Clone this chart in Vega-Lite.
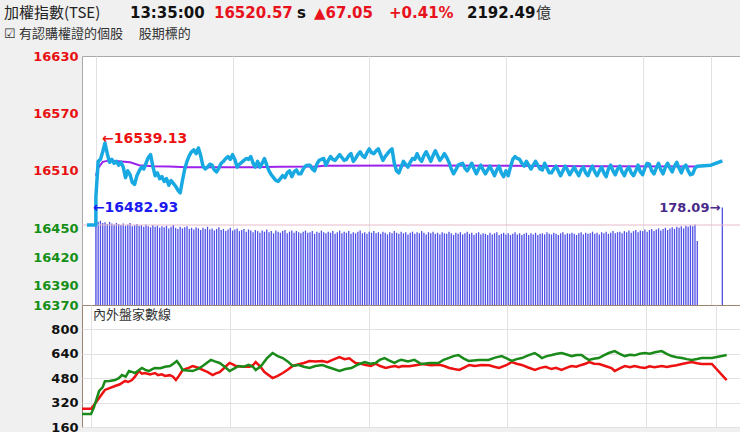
{
  "$schema": "https://vega.github.io/schema/vega-lite/v6.json",
  "padding": {"left": 3, "top": 6, "right": 0, "bottom": 0},
  "background": "#f0f0f0",
  "config": {
    "view": {"stroke": null},
    "font": "DejaVu Sans",
    "title": {"anchor": "start", "frame": "group", "baseline": "alphabetic", "offset": 3, "fontSize": 15, "fontWeight": "bold", "color": "#111111", "font": "DejaVu Sans"}
  },
  "datasets": {
    "price": [
      {"t":-3.9,"p":16453.52},{"t":0,"p":16453.52},{"t":0,"p":16482.93},
      {"t":1,"p":16520},{"t":2,"p":16522},{"t":3,"p":16530},{"t":4,"p":16539.13},{"t":5,"p":16528},{"t":6,"p":16519},{"t":7,"p":16522},{"t":8,"p":16518},{"t":9,"p":16520},{"t":10,"p":16516},
      {"t":11,"p":16519},{"t":12,"p":16514},{"t":13,"p":16503},{"t":14,"p":16510},{"t":15,"p":16506},{"t":16,"p":16498},{"t":17,"p":16496},{"t":18,"p":16505},{"t":19,"p":16510},{"t":20,"p":16514},
      {"t":21,"p":16512},{"t":22,"p":16518},{"t":23,"p":16524},{"t":24,"p":16527},{"t":25,"p":16515},{"t":26,"p":16505},{"t":27,"p":16508},{"t":28,"p":16502},{"t":29,"p":16504},{"t":30,"p":16499},
      {"t":31,"p":16502},{"t":32,"p":16495},{"t":33,"p":16500},{"t":34,"p":16497},{"t":35,"p":16494},{"t":36,"p":16490},{"t":37,"p":16487},{"t":38,"p":16500},{"t":39,"p":16512},{"t":40,"p":16520},
      {"t":41,"p":16526},{"t":42,"p":16530},{"t":43,"p":16532},{"t":44,"p":16528},{"t":45,"p":16534},{"t":46,"p":16526},{"t":47,"p":16515},{"t":48,"p":16512},{"t":49,"p":16514},{"t":50,"p":16517},
      {"t":51,"p":16516},{"t":52,"p":16511},{"t":53,"p":16509},{"t":54,"p":16513},{"t":55,"p":16518},{"t":56,"p":16520},{"t":57,"p":16523},{"t":58,"p":16525},{"t":59,"p":16522},{"t":60,"p":16527},
      {"t":61,"p":16522},{"t":62,"p":16514},{"t":63,"p":16517},{"t":64,"p":16519},{"t":65,"p":16521},{"t":66,"p":16523},{"t":67,"p":16522},{"t":68,"p":16525},{"t":69,"p":16518},{"t":70,"p":16514},
      {"t":71,"p":16520},{"t":72,"p":16514},{"t":73,"p":16518},{"t":74,"p":16523},{"t":75,"p":16516},{"t":76,"p":16510},{"t":77,"p":16506},{"t":78,"p":16503},{"t":79,"p":16500},{"t":80,"p":16499},
      {"t":81,"p":16502},{"t":82,"p":16505},{"t":83,"p":16503},{"t":84,"p":16508},{"t":85,"p":16510},{"t":86,"p":16504},{"t":87,"p":16509},{"t":88,"p":16511},{"t":89,"p":16507},{"t":90,"p":16507},
      {"t":91,"p":16512},{"t":92,"p":16515},{"t":93,"p":16516},{"t":94,"p":16516},{"t":95,"p":16512},{"t":96,"p":16510},{"t":97,"p":16517},{"t":98,"p":16521},{"t":99,"p":16522},{"t":100,"p":16523},
      {"t":101,"p":16516},{"t":102,"p":16521},{"t":103,"p":16525},{"t":104,"p":16522},{"t":105,"p":16521},{"t":106,"p":16524},{"t":107,"p":16527},{"t":108,"p":16524},{"t":109,"p":16521},{"t":110,"p":16522},
      {"t":111,"p":16526},{"t":112,"p":16528},{"t":113,"p":16520},{"t":114,"p":16523},{"t":115,"p":16527},{"t":116,"p":16530},{"t":117,"p":16526},{"t":118,"p":16524},{"t":119,"p":16529},{"t":120,"p":16533},
      {"t":121,"p":16529},{"t":122,"p":16528},{"t":123,"p":16531},{"t":124,"p":16533},{"t":125,"p":16527},{"t":126,"p":16521},{"t":127,"p":16525},{"t":128,"p":16528},{"t":129,"p":16531},{"t":130,"p":16533},
      {"t":131,"p":16518},{"t":132,"p":16510},{"t":133,"p":16508},{"t":134,"p":16514},{"t":135,"p":16520},{"t":136,"p":16517},{"t":137,"p":16514},{"t":138,"p":16519},{"t":139,"p":16523},{"t":140,"p":16522},
      {"t":141,"p":16528},{"t":142,"p":16523},{"t":143,"p":16520},{"t":144,"p":16526},{"t":145,"p":16530},{"t":146,"p":16525},{"t":147,"p":16520},{"t":148,"p":16526},{"t":149,"p":16531},{"t":150,"p":16526},
      {"t":151,"p":16521},{"t":152,"p":16524},{"t":153,"p":16528},{"t":154,"p":16524},{"t":155,"p":16519},{"t":156,"p":16512},{"t":157,"p":16507},{"t":158,"p":16511},{"t":159,"p":16516},{"t":160,"p":16517},
      {"t":161,"p":16518},{"t":162,"p":16513},{"t":163,"p":16510},{"t":164,"p":16514},{"t":165,"p":16518},{"t":166,"p":16512},{"t":167,"p":16507},{"t":168,"p":16512},{"t":169,"p":16516},{"t":170,"p":16511},
      {"t":171,"p":16507},{"t":172,"p":16511},{"t":173,"p":16515},{"t":174,"p":16510},{"t":175,"p":16505},{"t":176,"p":16511},{"t":177,"p":16515},{"t":178,"p":16508},{"t":179,"p":16504},{"t":180,"p":16510},
      {"t":181,"p":16505},{"t":182,"p":16514},{"t":183,"p":16522},{"t":184,"p":16525},{"t":185,"p":16523},{"t":186,"p":16522},{"t":187,"p":16518},{"t":188,"p":16515},{"t":189,"p":16520},{"t":190,"p":16516},
      {"t":191,"p":16512},{"t":192,"p":16516},{"t":193,"p":16520},{"t":194,"p":16516},{"t":195,"p":16512},{"t":196,"p":16511},{"t":197,"p":16518},{"t":198,"p":16513},{"t":199,"p":16508},{"t":200,"p":16508},
      {"t":201,"p":16512},{"t":202,"p":16515},{"t":203,"p":16510},{"t":204,"p":16505},{"t":205,"p":16510},{"t":206,"p":16515},{"t":207,"p":16511},{"t":208,"p":16506},{"t":209,"p":16510},{"t":210,"p":16514},
      {"t":211,"p":16509},{"t":212,"p":16505},{"t":213,"p":16511},{"t":214,"p":16514},{"t":215,"p":16508},{"t":216,"p":16505},{"t":217,"p":16511},{"t":218,"p":16515},{"t":219,"p":16509},{"t":220,"p":16505},
      {"t":221,"p":16510},{"t":222,"p":16514},{"t":223,"p":16508},{"t":224,"p":16504},{"t":225,"p":16512},{"t":226,"p":16516},{"t":227,"p":16510},{"t":228,"p":16506},{"t":229,"p":16512},{"t":230,"p":16515},
      {"t":231,"p":16509},{"t":232,"p":16505},{"t":233,"p":16511},{"t":234,"p":16514},{"t":235,"p":16508},{"t":236,"p":16505},{"t":237,"p":16510},{"t":238,"p":16516},{"t":239,"p":16509},{"t":240,"p":16506},
      {"t":241,"p":16513},{"t":242,"p":16518},{"t":243,"p":16517},{"t":244,"p":16510},{"t":245,"p":16507},{"t":246,"p":16513},{"t":247,"p":16518},{"t":248,"p":16511},{"t":249,"p":16507},{"t":250,"p":16514},
      {"t":251,"p":16518},{"t":252,"p":16513},{"t":253,"p":16509},{"t":254,"p":16515},{"t":255,"p":16519},{"t":256,"p":16513},{"t":257,"p":16508},{"t":258,"p":16514},{"t":259,"p":16516},{"t":260,"p":16510},
      {"t":261,"p":16506},{"t":262,"p":16507},{"t":263,"p":16513},{"t":264,"p":16515},{"t":270,"p":16516},{"t":275,"p":16520.57}
    ],
    "avg": [
      {"t":0,"p":16505},{"t":1,"p":16513},{"t":3,"p":16519.5},{"t":6,"p":16521},{"t":10,"p":16520},{"t":15,"p":16519},{"t":19,"p":16516},{"t":25,"p":16514.8},{"t":32,"p":16514.5},{"t":40,"p":16513.8},
      {"t":68,"p":16513.8},{"t":80,"p":16514.4},{"t":97,"p":16514.6},{"t":100,"p":16515.4},{"t":140,"p":16515.6},{"t":180,"p":16515.4},{"t":220,"p":16514.9},{"t":264,"p":16514.6}
    ],
    "extremes": [
      {"t":4,"p":16539.13,"kind":"high"},
      {"t":0,"p":16482.93,"kind":"low"}
    ],
    "vol": [
      {"t":0,"v":156},{"t":1,"v":152},{"t":2,"v":154},{"t":3,"v":150},{"t":4,"v":151},{"t":5,"v":148},{"t":6,"v":152},{"t":7,"v":149},{"t":8,"v":147},{"t":9,"v":150},
      {"t":10,"v":148},{"t":11,"v":146},{"t":12,"v":149},{"t":13,"v":145},{"t":14,"v":147},{"t":15,"v":150},{"t":16,"v":144},{"t":17,"v":146},{"t":18,"v":148},{"t":19,"v":145},
      {"t":20,"v":146},{"t":21,"v":143},{"t":22,"v":147},{"t":23,"v":144},{"t":24,"v":142},{"t":25,"v":146},{"t":26,"v":143},{"t":27,"v":145},{"t":28,"v":141},{"t":29,"v":144},
      {"t":30,"v":142},{"t":31,"v":145},{"t":32,"v":140},{"t":33,"v":143},{"t":34,"v":146},{"t":35,"v":141},{"t":36,"v":139},{"t":37,"v":143},{"t":38,"v":140},{"t":39,"v":142},
      {"t":40,"v":144},{"t":41,"v":139},{"t":42,"v":141},{"t":43,"v":138},{"t":44,"v":142},{"t":45,"v":140},{"t":46,"v":137},{"t":47,"v":141},{"t":48,"v":139},{"t":49,"v":143},
      {"t":50,"v":138},{"t":51,"v":140},{"t":52,"v":136},{"t":53,"v":139},{"t":54,"v":142},{"t":55,"v":137},{"t":56,"v":139},{"t":57,"v":135},{"t":58,"v":138},{"t":59,"v":141},
      {"t":60,"v":136},{"t":61,"v":138},{"t":62,"v":140},{"t":63,"v":135},{"t":64,"v":137},{"t":65,"v":139},{"t":66,"v":134},{"t":67,"v":138},{"t":68,"v":136},{"t":69,"v":133},
      {"t":70,"v":137},{"t":71,"v":135},{"t":72,"v":132},{"t":73,"v":136},{"t":74,"v":134},{"t":75,"v":138},{"t":76,"v":133},{"t":77,"v":135},{"t":78,"v":131},{"t":79,"v":136},
      {"t":80,"v":134},{"t":81,"v":132},{"t":82,"v":135},{"t":83,"v":137},{"t":84,"v":131},{"t":85,"v":134},{"t":86,"v":136},{"t":87,"v":132},{"t":88,"v":135},{"t":89,"v":133},
      {"t":90,"v":131},{"t":91,"v":134},{"t":92,"v":136},{"t":93,"v":132},{"t":94,"v":133},{"t":95,"v":135},{"t":96,"v":130},{"t":97,"v":134},{"t":98,"v":132},{"t":99,"v":136},
      {"t":100,"v":133},{"t":101,"v":131},{"t":102,"v":134},{"t":103,"v":132},{"t":104,"v":135},{"t":105,"v":130},{"t":106,"v":133},{"t":107,"v":136},{"t":108,"v":131},{"t":109,"v":134},
      {"t":110,"v":132},{"t":111,"v":135},{"t":112,"v":130},{"t":113,"v":133},{"t":114,"v":131},{"t":115,"v":134},{"t":116,"v":136},{"t":117,"v":131},{"t":118,"v":133},{"t":119,"v":130},
      {"t":120,"v":134},{"t":121,"v":132},{"t":122,"v":135},{"t":123,"v":131},{"t":124,"v":133},{"t":125,"v":130},{"t":126,"v":134},{"t":127,"v":132},{"t":128,"v":129},{"t":129,"v":133},
      {"t":130,"v":131},{"t":131,"v":135},{"t":132,"v":132},{"t":133,"v":130},{"t":134,"v":134},{"t":135,"v":131},{"t":136,"v":133},{"t":137,"v":129},{"t":138,"v":132},{"t":139,"v":134},
      {"t":140,"v":130},{"t":141,"v":133},{"t":142,"v":131},{"t":143,"v":135},{"t":144,"v":132},{"t":145,"v":129},{"t":146,"v":133},{"t":147,"v":131},{"t":148,"v":134},{"t":149,"v":130},
      {"t":150,"v":132},{"t":151,"v":129},{"t":152,"v":133},{"t":153,"v":131},{"t":154,"v":130},{"t":155,"v":134},{"t":156,"v":131},{"t":157,"v":128},{"t":158,"v":132},{"t":159,"v":130},
      {"t":160,"v":133},{"t":161,"v":129},{"t":162,"v":131},{"t":163,"v":134},{"t":164,"v":130},{"t":165,"v":132},{"t":166,"v":128},{"t":167,"v":131},{"t":168,"v":133},{"t":169,"v":129},
      {"t":170,"v":131},{"t":171,"v":130},{"t":172,"v":128},{"t":173,"v":132},{"t":174,"v":129},{"t":175,"v":131},{"t":176,"v":133},{"t":177,"v":128},{"t":178,"v":130},{"t":179,"v":132},
      {"t":180,"v":129},{"t":181,"v":131},{"t":182,"v":128},{"t":183,"v":130},{"t":184,"v":133},{"t":185,"v":129},{"t":186,"v":131},{"t":187,"v":128},{"t":188,"v":130},{"t":189,"v":132},
      {"t":190,"v":128},{"t":191,"v":131},{"t":192,"v":129},{"t":193,"v":132},{"t":194,"v":128},{"t":195,"v":130},{"t":196,"v":131},{"t":197,"v":129},{"t":198,"v":133},{"t":199,"v":130},
      {"t":200,"v":129},{"t":201,"v":132},{"t":202,"v":130},{"t":203,"v":128},{"t":204,"v":131},{"t":205,"v":133},{"t":206,"v":129},{"t":207,"v":131},{"t":208,"v":130},{"t":209,"v":132},
      {"t":210,"v":130},{"t":211,"v":128},{"t":212,"v":131},{"t":213,"v":133},{"t":214,"v":129},{"t":215,"v":132},{"t":216,"v":130},{"t":217,"v":131},{"t":218,"v":134},{"t":219,"v":130},
      {"t":220,"v":132},{"t":221,"v":129},{"t":222,"v":133},{"t":223,"v":131},{"t":224,"v":134},{"t":225,"v":130},{"t":226,"v":132},{"t":227,"v":135},{"t":228,"v":131},{"t":229,"v":133},
      {"t":230,"v":134},{"t":231,"v":131},{"t":232,"v":135},{"t":233,"v":133},{"t":234,"v":136},{"t":235,"v":132},{"t":236,"v":135},{"t":237,"v":137},{"t":238,"v":133},{"t":239,"v":136},
      {"t":240,"v":135},{"t":241,"v":138},{"t":242,"v":134},{"t":243,"v":137},{"t":244,"v":139},{"t":245,"v":135},{"t":246,"v":138},{"t":247,"v":140},{"t":248,"v":136},{"t":249,"v":139},
      {"t":250,"v":141},{"t":251,"v":137},{"t":252,"v":140},{"t":253,"v":142},{"t":254,"v":139},{"t":255,"v":143},{"t":256,"v":141},{"t":257,"v":144},{"t":258,"v":140},{"t":259,"v":145},
      {"t":260,"v":143},{"t":261,"v":146},{"t":262,"v":144},{"t":263,"v":147},{"t":264,"v":117},{"t":275,"v":178.09}
    ],
    "breadth": [
      {"t":-3.9,"s":"外盤","n":280},{"t":0,"s":"外盤","n":280},{"t":1.3,"s":"外盤","n":304},{"t":3.5,"s":"外盤","n":350},{"t":6,"s":"外盤","n":403},{"t":8,"s":"外盤","n":415},{"t":10.4,"s":"外盤","n":429},{"t":12.5,"s":"外盤","n":440},{"t":14.7,"s":"外盤","n":462},{"t":16,"s":"外盤","n":455},
      {"t":17.7,"s":"外盤","n":468},{"t":19,"s":"外盤","n":490},{"t":20.7,"s":"外盤","n":527},{"t":22,"s":"外盤","n":510},{"t":23.3,"s":"外盤","n":514},{"t":25.5,"s":"外盤","n":505},{"t":27.6,"s":"外盤","n":514},{"t":29,"s":"外盤","n":500},{"t":30.6,"s":"外盤","n":505},{"t":32,"s":"外盤","n":495},
      {"t":34,"s":"外盤","n":500},{"t":35.5,"s":"外盤","n":490},{"t":36.7,"s":"外盤","n":468},{"t":38,"s":"外盤","n":495},{"t":39.6,"s":"外盤","n":534},{"t":41.8,"s":"外盤","n":545},{"t":43.9,"s":"外盤","n":560},{"t":46,"s":"外盤","n":550},{"t":48.3,"s":"外盤","n":534},{"t":50.5,"s":"外盤","n":520},
      {"t":52.6,"s":"外盤","n":501},{"t":54,"s":"外盤","n":512},{"t":55.6,"s":"外盤","n":520},{"t":57.8,"s":"外盤","n":550},{"t":59.9,"s":"外盤","n":580},{"t":61.3,"s":"外盤","n":570},{"t":62.6,"s":"外盤","n":560},{"t":65.5,"s":"外盤","n":555},{"t":68.6,"s":"外盤","n":555},{"t":70,"s":"外盤","n":565},
      {"t":71.2,"s":"外盤","n":586},{"t":73,"s":"外盤","n":560},{"t":75,"s":"外盤","n":520},{"t":78.5,"s":"外盤","n":481},{"t":80.7,"s":"外盤","n":495},{"t":82.9,"s":"外盤","n":514},{"t":85,"s":"外盤","n":535},{"t":87.2,"s":"外盤","n":560},{"t":89.5,"s":"外盤","n":570},{"t":92,"s":"外盤","n":580},
      {"t":94.5,"s":"外盤","n":593},{"t":97,"s":"外盤","n":590},{"t":100,"s":"外盤","n":593},{"t":102.2,"s":"外盤","n":585},{"t":104.4,"s":"外盤","n":600},{"t":106,"s":"外盤","n":610},{"t":107.4,"s":"外盤","n":619},{"t":109.6,"s":"外盤","n":605},{"t":111.7,"s":"外盤","n":610},{"t":113,"s":"外盤","n":595},
      {"t":114.4,"s":"外盤","n":580},{"t":116.6,"s":"外盤","n":575},{"t":118.8,"s":"外盤","n":567},{"t":121,"s":"外盤","n":560},{"t":123,"s":"外盤","n":575},{"t":125,"s":"外盤","n":560},{"t":127.4,"s":"外盤","n":547},{"t":129.5,"s":"外盤","n":555},{"t":131.6,"s":"外盤","n":560},{"t":133,"s":"外盤","n":552},
      {"t":134.6,"s":"外盤","n":560},{"t":137.5,"s":"外盤","n":558},{"t":140.3,"s":"外盤","n":565},{"t":143.3,"s":"外盤","n":573},{"t":147,"s":"外盤","n":565},{"t":150.6,"s":"外盤","n":568},{"t":152.7,"s":"外盤","n":560},{"t":154.9,"s":"外盤","n":547},{"t":157,"s":"外盤","n":540},{"t":159.2,"s":"外盤","n":534},
      {"t":161.3,"s":"外盤","n":550},{"t":163.5,"s":"外盤","n":567},{"t":166,"s":"外盤","n":560},{"t":168.8,"s":"外盤","n":567},{"t":172.1,"s":"外盤","n":565},{"t":174.3,"s":"外盤","n":555},{"t":176.4,"s":"外盤","n":547},{"t":179.5,"s":"外盤","n":565},{"t":181.9,"s":"外盤","n":586},{"t":184,"s":"外盤","n":575},
      {"t":186.2,"s":"外盤","n":567},{"t":189,"s":"外盤","n":550},{"t":191.9,"s":"外盤","n":534},{"t":194.3,"s":"外盤","n":548},{"t":196.6,"s":"外盤","n":555},{"t":199,"s":"外盤","n":540},{"t":201,"s":"外盤","n":548},{"t":203.4,"s":"外盤","n":534},{"t":205.5,"s":"外盤","n":548},{"t":207.7,"s":"外盤","n":560},
      {"t":209.8,"s":"外盤","n":555},{"t":212,"s":"外盤","n":567},{"t":213.7,"s":"外盤","n":575},{"t":215.4,"s":"外盤","n":586},{"t":217.5,"s":"外盤","n":575},{"t":219.7,"s":"外盤","n":573},{"t":222.3,"s":"外盤","n":560},{"t":225,"s":"外盤","n":547},{"t":226.4,"s":"外盤","n":527},{"t":228.6,"s":"外盤","n":545},
      {"t":230.8,"s":"外盤","n":560},{"t":233,"s":"外盤","n":552},{"t":235,"s":"外盤","n":560},{"t":237.2,"s":"外盤","n":552},{"t":239.4,"s":"外盤","n":547},{"t":241.5,"s":"外盤","n":558},{"t":243.6,"s":"外盤","n":552},{"t":246.7,"s":"外盤","n":560},{"t":249,"s":"外盤","n":553},{"t":251,"s":"外盤","n":560},
      {"t":253.2,"s":"外盤","n":565},{"t":255.4,"s":"外盤","n":573},{"t":257.5,"s":"外盤","n":580},{"t":259.7,"s":"外盤","n":586},{"t":262,"s":"外盤","n":578},{"t":264,"s":"外盤","n":573},{"t":268.4,"s":"外盤","n":573},{"t":274.8,"s":"外盤","n":468},
      {"t":-3.9,"s":"內盤","n":245},{"t":0,"s":"內盤","n":245},{"t":1.3,"s":"內盤","n":290},{"t":3.5,"s":"內盤","n":396},{"t":5,"s":"內盤","n":420},{"t":6,"s":"內盤","n":460},{"t":8,"s":"內盤","n":462},{"t":10.4,"s":"內盤","n":468},{"t":12,"s":"內盤","n":480},{"t":13.4,"s":"內盤","n":501},
      {"t":15,"s":"內盤","n":490},{"t":16.4,"s":"內盤","n":527},{"t":18,"s":"內盤","n":520},{"t":19,"s":"內盤","n":514},{"t":20.5,"s":"內盤","n":530},{"t":22,"s":"內盤","n":547},{"t":23.5,"s":"內盤","n":535},{"t":25,"s":"內盤","n":527},{"t":26.5,"s":"內盤","n":540},{"t":27.6,"s":"內盤","n":547},
      {"t":30,"s":"內盤","n":545},{"t":32,"s":"內盤","n":555},{"t":34.1,"s":"內盤","n":560},{"t":35.6,"s":"內盤","n":575},{"t":37.1,"s":"內盤","n":593},{"t":38.4,"s":"內盤","n":565},{"t":39.6,"s":"內盤","n":534},{"t":41.8,"s":"內盤","n":530},{"t":43.9,"s":"內盤","n":527},{"t":46,"s":"內盤","n":540},
      {"t":48.3,"s":"內盤","n":560},{"t":50,"s":"內盤","n":580},{"t":51.8,"s":"內盤","n":600},{"t":53.5,"s":"內盤","n":590},{"t":55.6,"s":"內盤","n":580},{"t":57.8,"s":"內盤","n":555},{"t":59.9,"s":"內盤","n":527},{"t":62,"s":"內盤","n":545},{"t":63.9,"s":"內盤","n":560},{"t":66,"s":"內盤","n":555},
      {"t":68.2,"s":"內盤","n":567},{"t":70,"s":"內盤","n":555},{"t":71.2,"s":"內盤","n":534},{"t":73.5,"s":"內盤","n":560},{"t":76,"s":"內盤","n":610},{"t":78.5,"s":"內盤","n":645},{"t":80.7,"s":"內盤","n":625},{"t":82.9,"s":"內盤","n":612},{"t":85,"s":"內盤","n":590},{"t":87.2,"s":"內盤","n":560},
      {"t":89.5,"s":"內盤","n":567},{"t":92,"s":"內盤","n":555},{"t":94.5,"s":"內盤","n":547},{"t":97,"s":"內盤","n":560},{"t":100,"s":"內盤","n":567},{"t":102,"s":"內盤","n":555},{"t":104,"s":"內盤","n":545},{"t":107.4,"s":"內盤","n":527},{"t":110,"s":"內盤","n":540},{"t":112.6,"s":"內盤","n":547},
      {"t":115.5,"s":"內盤","n":570},{"t":118.4,"s":"內盤","n":586},{"t":120.7,"s":"內盤","n":575},{"t":123,"s":"內盤","n":580},{"t":124.8,"s":"內盤","n":600},{"t":126.9,"s":"內盤","n":612},{"t":129,"s":"內盤","n":595},{"t":131.2,"s":"內盤","n":580},{"t":133,"s":"內盤","n":595},{"t":134.2,"s":"內盤","n":600},
      {"t":137,"s":"內盤","n":590},{"t":139.8,"s":"內盤","n":600},{"t":142.8,"s":"內盤","n":573},{"t":146.5,"s":"內盤","n":580},{"t":150.2,"s":"內盤","n":580},{"t":152.4,"s":"內盤","n":600},{"t":154.5,"s":"內盤","n":612},{"t":156.7,"s":"內盤","n":625},{"t":158.8,"s":"內盤","n":632},{"t":161,"s":"內盤","n":610},
      {"t":163.2,"s":"內盤","n":593},{"t":167.5,"s":"內盤","n":600},{"t":171.8,"s":"內盤","n":600},{"t":174.7,"s":"內盤","n":615},{"t":177.5,"s":"內盤","n":625},{"t":179.7,"s":"內盤","n":610},{"t":181.9,"s":"內盤","n":593},{"t":184,"s":"內盤","n":605},{"t":186.2,"s":"內盤","n":612},{"t":189,"s":"內盤","n":630},
      {"t":191.8,"s":"內盤","n":645},{"t":193.4,"s":"內盤","n":630},{"t":194.9,"s":"內盤","n":612},{"t":197,"s":"內盤","n":625},{"t":199.2,"s":"內盤","n":632},{"t":201.4,"s":"內盤","n":640},{"t":203.5,"s":"內盤","n":645},{"t":205.6,"s":"內盤","n":635},{"t":207.8,"s":"內盤","n":625},{"t":210,"s":"內盤","n":632},
      {"t":212.1,"s":"內盤","n":632},{"t":213.6,"s":"內盤","n":615},{"t":215.2,"s":"內盤","n":600},{"t":217.3,"s":"內盤","n":608},{"t":219.5,"s":"內盤","n":612},{"t":221.7,"s":"內盤","n":630},{"t":223.8,"s":"內盤","n":645},{"t":226.4,"s":"內盤","n":658},{"t":228.6,"s":"內盤","n":640},{"t":230.8,"s":"內盤","n":625},
      {"t":232.9,"s":"內盤","n":633},{"t":235,"s":"內盤","n":630},{"t":237.2,"s":"內盤","n":640},{"t":239.4,"s":"內盤","n":645},{"t":241.6,"s":"內盤","n":640},{"t":243.8,"s":"內盤","n":650},{"t":246.7,"s":"內盤","n":658},{"t":248.9,"s":"內盤","n":640},{"t":251,"s":"內盤","n":625},{"t":253.2,"s":"內盤","n":618},
      {"t":255.4,"s":"內盤","n":612},{"t":257.6,"s":"內盤","n":605},{"t":259.7,"s":"內盤","n":600},{"t":262,"s":"內盤","n":606},{"t":264,"s":"內盤","n":612},{"t":268.4,"s":"內盤","n":612},{"t":274.8,"s":"內盤","n":632}
    ]
  },
  "concat": [
    {
      "hconcat": [
        {"width": 48, "height": 1, "data": {"values": []}, "mark": "point", "title": {"text": "加權指數(TSE)", "font": "Noto Sans CJK TC", "fontWeight": "normal", "color": "#222222", "dx": -78}},
        {"width": 84, "height": 1, "data": {"values": []}, "mark": "point", "title": {"text": "13:35:00", "color": "#111111"}},
        {"width": 83, "height": 1, "data": {"values": []}, "mark": "point", "title": {"text": "16520.57", "color": "#e8121c"}},
        {"width": 17, "height": 1, "data": {"values": []}, "mark": "point", "title": {"text": "s", "color": "#111111"}},
        {"width": 75, "height": 1, "data": {"values": []}, "mark": "point", "title": {"text": "▲67.05", "color": "#e8121c"}},
        {"width": 78, "height": 1, "data": {"values": []}, "mark": "point", "title": {"text": "+0.41%", "color": "#e8121c"}},
        {"width": 67, "height": 1, "data": {"values": []}, "mark": "point", "title": {"text": "2192.49", "color": "#111111"}},
        {"width": 20, "height": 1, "data": {"values": []}, "mark": "point", "title": {"text": "億", "font": "Noto Sans CJK TC", "fontWeight": "normal", "color": "#333333"}}
      ],
      "spacing": 0
    },
    {
      "vconcat": [
        {
          "width": 659,
          "height": 249,
          "view": {"fill": "white", "stroke": "#aaaaaa"},
          "title": {"text": " ☑ 有認購權證的個股　 股期標的", "font": "Noto Sans CJK TC", "fontSize": 13, "fontWeight": "normal", "color": "#333333", "dx": -78, "offset": 9},
          "layer": [
            {
              "data": {"name": "vol"},
              "layer": [
                {
                  "mark": {"type": "bar", "width": 1.3, "color": "#5050e6"},
                  "encoding": {
                    "x": {"field": "t", "type": "quantitative", "scale": {"domain": [-3.9, 281], "nice": false, "zero": false}, "axis": {"values": [0, 60, 120, 180, 240, 270], "labels": false, "ticks": false, "domain": false, "title": null, "grid": true, "gridColor": "#e2e2e2"}},
                    "y": {"field": "v", "type": "quantitative", "scale": {"domain": [0, 455], "nice": false}, "axis": null}
                  }
                },
                {
                  "transform": [{"filter": "datum.t > 270"}, {"calculate": "format(datum.v, '.2f') + '→'", "as": "label"}],
                  "mark": {"type": "text", "align": "right", "baseline": "middle", "dx": -2, "font": "DejaVu Sans", "fontWeight": "bold", "fontSize": 13, "color": "#4a2a88"},
                  "encoding": {
                    "x": {"field": "t", "type": "quantitative"},
                    "y": {"field": "v", "type": "quantitative"},
                    "text": {"field": "label"}
                  }
                }
              ]
            },
            {
              "layer": [
                {
                  "data": {"values": [{}]},
                  "mark": {"type": "rule", "color": "#e6bccb", "strokeWidth": 1},
                  "encoding": {"y": {"datum": 16453.52, "type": "quantitative"}}
                },
                {
                  "data": {"name": "avg"},
                  "mark": {"type": "line", "color": "#9b22ea", "strokeWidth": 2},
                  "encoding": {
                    "x": {"field": "t", "type": "quantitative"},
                    "y": {"field": "p", "type": "quantitative", "scale": {"domain": [16370, 16630], "nice": false, "zero": false},
                      "axis": {"orient": "left", "values": [16370, 16390, 16420, 16450, 16510, 16570, 16630], "format": "d", "title": null, "domain": false, "ticks": false, "labelPadding": 4, "labelFont": "DejaVu Sans", "labelFontWeight": "bold", "labelFontSize": 13, "labelFlush": false, "labelColor": {"condition": {"test": "datum.value > 16453.52", "value": "#e81010"}, "value": "#158f15"}, "gridColor": "#e2e2e2"}}
                  }
                },
                {
                  "data": {"name": "price"},
                  "mark": {"type": "line", "color": "#18a8e2", "strokeWidth": 3.5, "strokeJoin": "round"},
                  "encoding": {
                    "x": {"field": "t", "type": "quantitative"},
                    "y": {"field": "p", "type": "quantitative"}
                  }
                },
                {
                  "data": {"name": "extremes"},
                  "transform": [{"filter": "datum.kind == 'high'"}, {"calculate": "'←' + format(datum.p, '.2f')", "as": "label"}],
                  "mark": {"type": "text", "align": "left", "baseline": "bottom", "dx": -3, "dy": 3, "font": "DejaVu Sans", "fontWeight": "bold", "fontSize": 14, "color": "#ee1111"},
                  "encoding": {
                    "x": {"field": "t", "type": "quantitative"},
                    "y": {"field": "p", "type": "quantitative"},
                    "text": {"field": "label"}
                  }
                },
                {
                  "data": {"name": "extremes"},
                  "transform": [{"filter": "datum.kind == 'low'"}, {"calculate": "'←' + format(datum.p, '.2f')", "as": "label"}],
                  "mark": {"type": "text", "align": "left", "baseline": "top", "dx": -3, "dy": 4, "font": "DejaVu Sans", "fontWeight": "bold", "fontSize": 14, "color": "#1a1af0"},
                  "encoding": {
                    "x": {"field": "t", "type": "quantitative"},
                    "y": {"field": "p", "type": "quantitative"},
                    "text": {"field": "label"}
                  }
                }
              ]
            }
          ],
          "resolve": {"scale": {"y": "independent"}}
        },
        {
          "width": 659,
          "height": 122,
          "view": {"fill": "white", "stroke": "#9c8474"},
          "title": {"text": "內外盤家數線", "font": "Noto Sans CJK TC", "fontSize": 13, "fontWeight": "normal", "color": "#333333", "offset": -17, "dx": 11},
          "data": {"name": "breadth"},
          "mark": {"type": "line", "strokeWidth": 2.5},
          "encoding": {
            "x": {"field": "t", "type": "quantitative", "scale": {"domain": [-3.9, 281], "nice": false, "zero": false}, "axis": {"values": [0, 60, 120, 180, 240, 270], "labels": false, "ticks": false, "domain": false, "title": null, "grid": true, "gridColor": "#e2e2e2"}},
            "y": {"field": "n", "type": "quantitative", "scale": {"domain": [160, 960], "nice": false, "zero": false}, "axis": {"values": [160, 320, 480, 640, 800], "title": null, "domain": false, "ticks": false, "labelPadding": 4, "labelFont": "DejaVu Sans", "labelFontWeight": "bold", "labelFontSize": 13, "labelFlush": false, "labelColor": "#111111", "gridColor": "#e2e2e2"}},
            "color": {"field": "s", "type": "nominal", "scale": {"domain": ["外盤", "內盤"], "range": ["#ee1111", "#1a8a1a"]}, "legend": null}
          }
        }
      ],
      "spacing": 0,
      "bounds": "flush"
    }
  ],
  "columns": 1,
  "spacing": 2
}
